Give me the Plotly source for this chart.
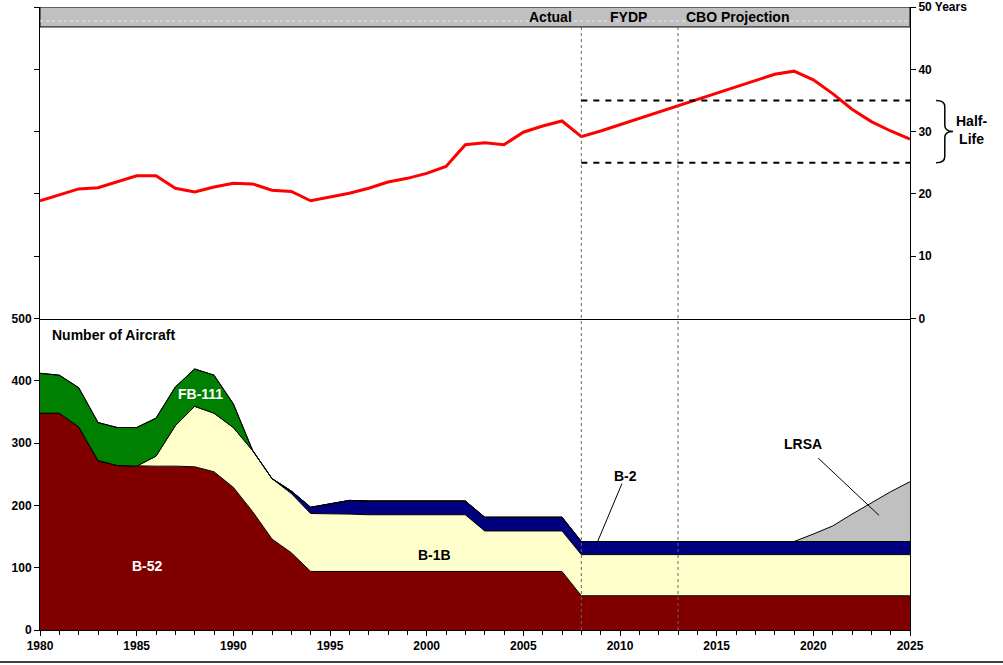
import plotly.graph_objects as go

years = [1980, 1981, 1982, 1983, 1984, 1985, 1986, 1987, 1988, 1989,
         1990, 1991, 1992, 1993, 1994, 1995, 1996, 1997, 1998, 1999,
         2000, 2001, 2002, 2003, 2004, 2005, 2006, 2007, 2008, 2009,
         2010, 2011, 2012, 2013, 2014, 2015, 2016, 2017, 2018, 2019,
         2020, 2021, 2022, 2023, 2024, 2025]

avg_age = [18.9, 19.9, 20.8, 21.0, 22.0, 22.9, 22.9, 20.9, 20.3, 21.1,
           21.7, 21.6, 20.6, 20.4, 18.9, 19.5, 20.1, 20.9, 21.9, 22.5,
           23.3, 24.4, 27.9, 28.2, 27.9, 29.9, 30.9, 31.7, 29.2, 30.1,
           31.1, 32.1, 33.1, 34.2, 35.1, 36.1, 37.1, 38.2, 39.2, 39.7,
           38.3, 36.1, 33.6, 31.6, 30.1, 28.8]

b52 = [348, 348, 326, 272, 264, 263, 263, 263, 262, 254,
       229, 190, 146, 124, 94, 94, 94, 94, 94, 94,
       94, 94, 94, 94, 94, 94, 94, 94, 55, 55,
       55, 55, 55, 55, 55, 55, 55, 55, 55, 55,
       55, 55, 55, 55, 55, 55]

b1b = [0, 0, 0, 0, 0, 0, 16, 65, 97, 94,
       96, 98, 97, 95, 93, 93, 92, 91, 91, 91,
       91, 91, 91, 65, 65, 65, 65, 65, 66, 66,
       66, 66, 66, 66, 66, 66, 66, 66, 66, 66,
       66, 66, 66, 66, 66, 66]

b2 = [0, 0, 0, 0, 0, 0, 0, 0, 0, 0,
      0, 0, 0, 4, 10, 16, 22, 22, 22, 22,
      22, 22, 22, 22, 22, 22, 22, 22, 21, 21,
      21, 21, 21, 21, 21, 21, 21, 21, 21, 21,
      21, 21, 21, 21, 21, 21]

fb111 = [64, 61, 63, 61, 61, 62, 61, 62, 60, 61,
         38, 0, 0, 0, 0, 0, 0, 0, 0, 0,
         0, 0, 0, 0, 0, 0, 0, 0, 0, 0,
         0, 0, 0, 0, 0, 0, 0, 0, 0, 0,
         0, 0, 0, 0, 0, 0]

lrsa = [0, 0, 0, 0, 0, 0, 0, 0, 0, 0,
        0, 0, 0, 0, 0, 0, 0, 0, 0, 0,
        0, 0, 0, 0, 0, 0, 0, 0, 0, 0,
        0, 0, 0, 0, 0, 0, 0, 0, 0, 0,
        12, 25, 44, 62, 80, 96]

x_ticks = [1980, 1985, 1990, 1995, 2000, 2005, 2010, 2015, 2020, 2025]
left_ticks = [0, 100, 200, 300, 400, 500]
right_ticks = [0, 10, 20, 30, 40, 50]
right_labels = ["0", "10", "20", "30", "40", "50 Years"]

phase_breaks = [2008, 2013]
half_life = [25, 35]

FONT = "Arial, Liberation Sans, sans-serif"

fig = go.Figure()

stack = [("B-52", b52, "#800000"), ("B-1B", b1b, "#FFFFCC"), ("B-2", b2, "#000080"),
         ("FB-111", fb111, "#008000"), ("LRSA", lrsa, "#C0C0C0")]
for name, vals, col in stack:
    fig.add_trace(go.Scatter(x=years, y=vals, name=name, stackgroup="fleet",
                             mode="lines", line=dict(color="black", width=1),
                             fillcolor=col, xaxis="x", yaxis="y",
                             hoverinfo="x+y+name"))

fig.add_trace(go.Scatter(x=years, y=avg_age, mode="lines", name="Average age",
                         line=dict(color="#FF0000", width=3), xaxis="x2", yaxis="y2"))

tickfont = dict(family=FONT, size=12, color="black", weight="bold")

fig.update_layout(
    width=1003, height=665,
    margin=dict(l=40, r=93, t=7, b=35, autoexpand=False),
    paper_bgcolor="white", plot_bgcolor="white",
    showlegend=False,
    font=dict(family=FONT, size=12, color="black"),
    xaxis=dict(domain=[0, 1], anchor="y", range=[1980, 2025], tickvals=x_ticks,
               ticks="outside", ticklen=5, tickcolor="black", showline=True,
               linecolor="black", linewidth=1, showgrid=False, zeroline=False,
               tickfont=tickfont, automargin=False,
               minor=dict(dtick=1, ticks="outside", ticklen=4, tickcolor="black", showgrid=False)),
    xaxis2=dict(domain=[0, 1], anchor="y2", matches="x", showticklabels=False,
                showline=True, linecolor="black", linewidth=1, showgrid=False,
                zeroline=False, ticks="", automargin=False),
    yaxis=dict(domain=[0, 0.5], range=[0, 500], tickvals=left_ticks, ticks="outside",
               ticklen=5, tickcolor="black", showline=True, mirror=True,
               linecolor="black", linewidth=1, showgrid=False, zeroline=False,
               tickfont=tickfont, automargin=False),
    yaxis2=dict(domain=[0.5, 1], range=[0, 50], side="right", tickvals=right_ticks,
                ticktext=right_labels, ticks="outside", ticklen=5, tickcolor="black",
                showline=True, mirror="ticks", linecolor="black", linewidth=1,
                showgrid=False, zeroline=False, tickfont=tickfont, automargin=False,
                ticklabeloverflow="allow"),
)

shapes = []
# header band
shapes.append(dict(type="rect", xref="x2", yref="y2", x0=1980, x1=2025, y0=46.8, y1=50,
                   fillcolor="#C0C0C0", line=dict(color="black", width=1), layer="below"))
shapes.append(dict(type="line", xref="x2", yref="y2", x0=1980, x1=2025, y0=47.75, y1=47.75,
                   line=dict(color="#E8E8E8", width=1, dash="dot")))
# phase dividers
for yr in phase_breaks:
    shapes.append(dict(type="line", xref="x", yref="paper", x0=yr, x1=yr, y0=0, y1=0.968,
                       line=dict(color="#666666", width=1, dash="dot"), layer="above"))
# half-life band
for v in half_life:
    shapes.append(dict(type="line", xref="x2", yref="y2", x0=2008, x1=2025, y0=v, y1=v,
                       line=dict(color="black", width=2, dash="6px,6px")))
# brace
x0, x1, x2 = 1.030, 1.040, 1.0495
shapes.append(dict(type="path", xref="paper", yref="y2",
                   path=(f"M {x0},35 Q {x1},35 {x1},34 L {x1},31 Q {x1},30 {x2},30 "
                         f"Q {x1},30 {x1},29 L {x1},26 Q {x1},25 {x0},25"),
                   line=dict(color="black", width=1.5)))
# callout lines
shapes.append(dict(type="line", xref="x", yref="y", x0=2010.1, y0=235, x1=2008.75, y1=135,
                   line=dict(color="black", width=1)))
shapes.append(dict(type="line", xref="x", yref="y", x0=2020.25, y0=276, x1=2023.4, y1=184,
                   line=dict(color="black", width=1)))
# bottom page rule
shapes.append(dict(type="line", xref="paper", yref="paper", x0=-0.05, x1=1.11, y0=-0.0515, y1=-0.0515,
                   line=dict(color="black", width=1.5)))
fig.update_layout(shapes=shapes)

bold = lambda size, color="black": dict(family=FONT, size=size, color=color, weight="bold")
ann = []
ann.append(dict(x=2006.43, y=48.4, xref="x2", yref="y2", text="Actual", showarrow=False, font=bold(14)))
ann.append(dict(x=2010.42, y=48.4, xref="x2", yref="y2", text="FYDP", showarrow=False, font=bold(14)))
ann.append(dict(x=2016.06, y=48.4, xref="x2", yref="y2", text="CBO Projection", showarrow=False, font=bold(14)))
ann.append(dict(x=1.0705, y=30.3, xref="paper", yref="y2", text="Half-<br>Life", showarrow=False,
                font=bold(14), align="center", xanchor="center"))
ann.append(dict(x=1980.5, y=474, xref="x", yref="y", text="Number of Aircraft", showarrow=False,
                font=bold(14), xanchor="left"))
ann.append(dict(x=1988.28, y=379.6, xref="x", yref="y", text="FB-111", showarrow=False, font=bold(14, "white")))
ann.append(dict(x=1985.54, y=102.5, xref="x", yref="y", text="B-52", showarrow=False, font=bold(14, "white")))
ann.append(dict(x=2000.43, y=120, xref="x", yref="y", text="B-1B", showarrow=False, font=bold(14)))
ann.append(dict(x=2010.26, y=248, xref="x", yref="y", text="B-2", showarrow=False, font=bold(14)))
ann.append(dict(x=2019.47, y=298, xref="x", yref="y", text="LRSA", showarrow=False, font=bold(14)))
fig.update_layout(annotations=ann)

fig.write_html("out.html", config={"displayModeBar": False},
               post_script="document.body.style.margin='0px';")
